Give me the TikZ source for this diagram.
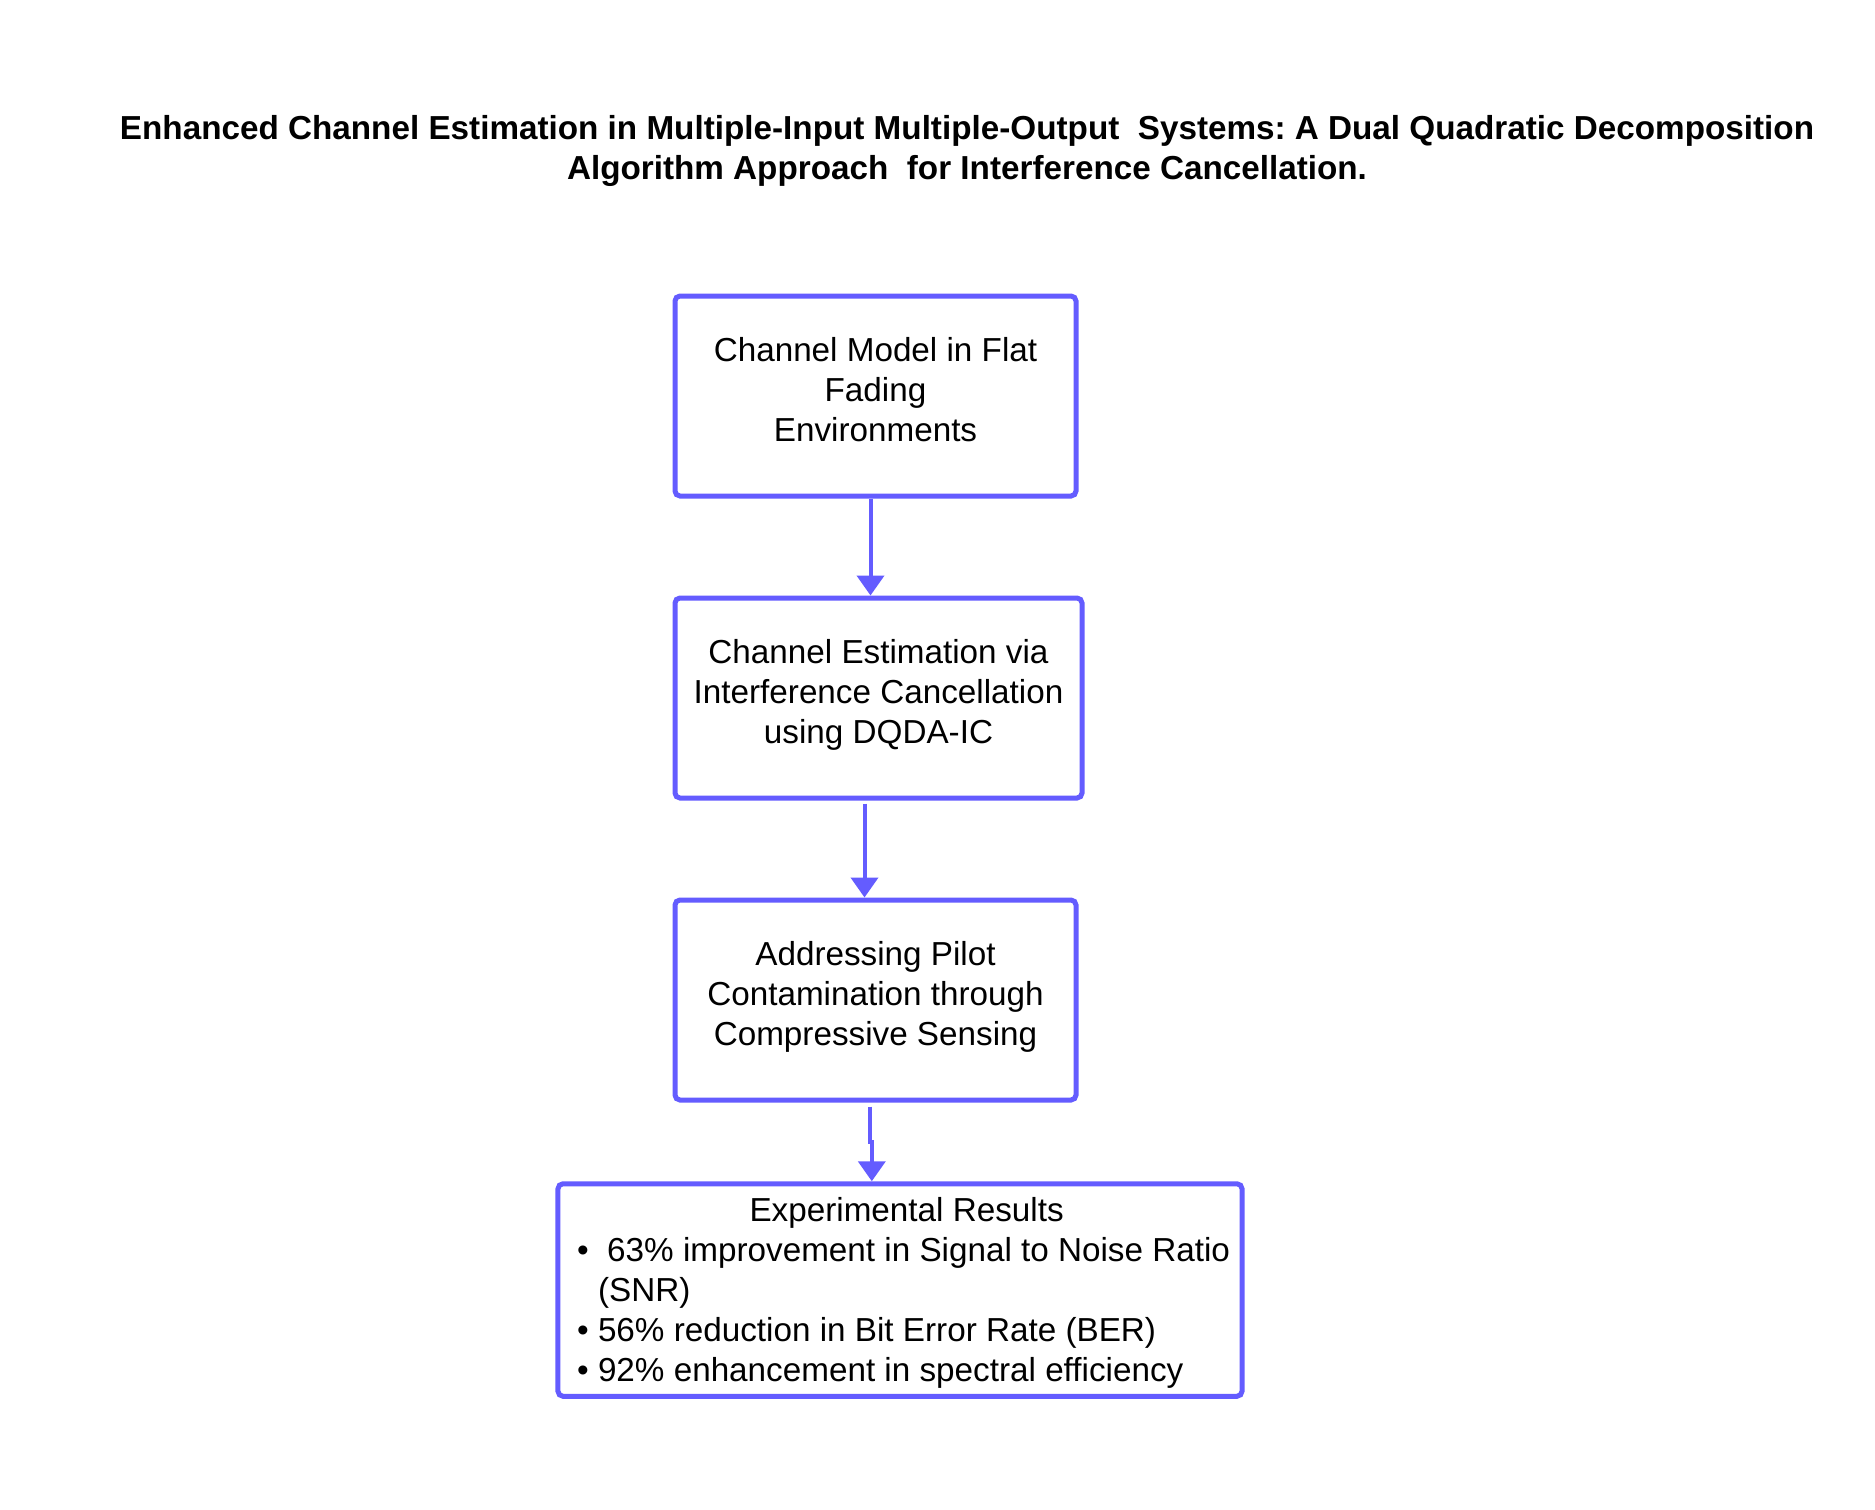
\documentclass[tikz,border=0pt]{standalone}
\usepackage{fontspec}
\setmainfont{Liberation Sans}
\usetikzlibrary{arrows.meta,calc}
\definecolor{boxblue}{RGB}{100,92,255}
\newcommand\mybodyfont{\fontsize{13.3pt}{16pt}\selectfont}
\newcommand\mytitlefont{\fontsize{13.3pt}{16pt}\selectfont\bfseries}
\newcommand\mylines[1]{\raisebox{0.9pt}[\height][\depth]{\begin{tabular}{@{}c@{}}#1\end{tabular}}}
\frenchspacing
\begin{document}
\begin{tikzpicture}[x=0.4pt,y=-0.4pt,
  box/.style={draw=boxblue,line width=2pt,rounded corners=2pt,inner sep=0pt,font=\mybodyfont},
  ttl/.style={inner sep=0pt,font=\mytitlefont},
  arr/.style={draw=boxblue,line width=1.6pt,-{Triangle[width=10.8pt,length=8pt]}}]
\fill[white] (0,0) rectangle (1875,1509);
\useasboundingbox (0,0) rectangle (1875,1509);
% title
\node[ttl,anchor=base] (t1) at (967,139) {Enhanced Channel Estimation in Multiple-Input Multiple-Output\ \ Systems: A Dual Quadratic Decomposition};
\node[ttl,anchor=base] (t2) at (967,179) {Algorithm Approach\ \ for Interference Cancellation.};
% boxes
\node[box,minimum width=160.4pt,minimum height=80pt] (b1) at (875.5,396)
  {\mylines{Channel Model in Flat\\Fading\\Environments}};
\node[box,minimum width=162.8pt,minimum height=80pt] (b2) at (878.5,698)
  {\mylines{Channel Estimation via\\Interference Cancellation\\using DQDA-IC}};
\node[box,minimum width=160.4pt,minimum height=80pt] (b3) at (875.5,1000)
  {\mylines{Addressing Pilot\\Contamination through\\Compressive Sensing}};
\node[box,minimum width=273.6pt,minimum height=85pt] (b4) at (900,1290)
  {\hspace*{2.9pt}\raisebox{-1.2pt}[\height][\depth]{\begin{tabular}{@{}l@{}}
   \multicolumn{1}{@{}c@{}}{\hspace{2.4pt}Experimental Results}\\
   •\ \ 63\% improvement in Signal to Noise Ratio\\
   \phantom{• }(SNR)\\
   • 56\% reduction in Bit Error Rate (BER)\\
   • 92\% enhancement in spectral efficiency
   \end{tabular}}};
% connectors
\draw[arr] (870.5,0 |- b1.south) -- (870.5,0 |- b2.north);
\draw[arr] ($(864.5,0 |- b2.south)+(0,3)$) -- (864.5,0 |- b3.north);
\coordinate (j1) at (870.3,1142);
\coordinate (j2) at (871.8,1142);
\draw[arr] ($(870.3,0 |- b3.south)+(0,4)$) -- (j1) -- (j2) -- (871.8,0 |- b4.north);
\end{tikzpicture}
\end{document}
